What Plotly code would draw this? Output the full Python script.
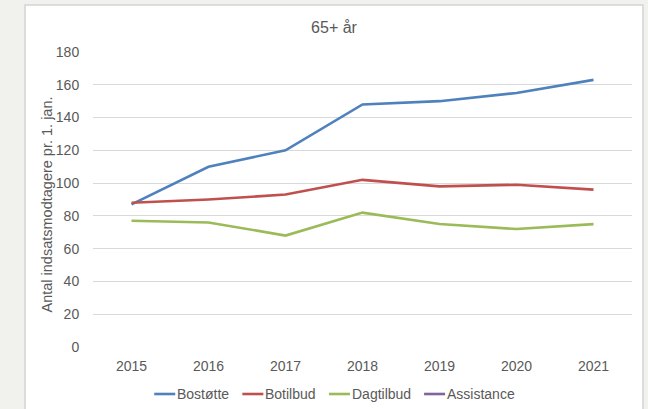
import plotly.graph_objects as go

years = ["2015", "2016", "2017", "2018", "2019", "2020", "2021"]
bostotte = [87, 110, 120, 148, 150, 155, 163]
botilbud = [88, 90, 93, 102, 98, 99, 96]
dagtilbud = [77, 76, 68, 82, 75, 72, 75]
assistance = [None, None, None, None, None, None, None]

series_names = ["Bostøtte", "Botilbud", "Dagtilbud", "Assistance"]
series_values = [bostotte, botilbud, dagtilbud, assistance]
colors = ["#4F81BD", "#C0504D", "#9BBB59", "#8064A2"]

y_ticks = [0, 20, 40, 60, 80, 100, 120, 140, 160, 180]
y_title = "Antal indsatsmodtagere pr. 1. jan."
chart_title = "65+ år"

FONT = "Liberation Sans, Arial, sans-serif"
TXT = "#595959"
FS = 14

fig = go.Figure()
for name, vals, col in zip(series_names, series_values, colors):
    fig.add_trace(go.Scatter(
        x=years, y=vals, name=name, mode="lines",
        line=dict(color=col, width=2.6),
        showlegend=False,
    ))

W, H = 648, 409
L, R, T, B = 93, 16, 52, 62
pw = W - L - R
ph = H - T - B

def px_x(p):
    return (p - L) / pw

def px_y(p):
    return (H - B - p) / ph

# white chart panel on grey page
fig.add_shape(type="rect", xref="paper", yref="paper",
              x0=px_x(25), x1=px_x(643), y0=px_y(420), y1=px_y(5),
              fillcolor="white", line=dict(color="#d4d4d4", width=1.5),
              layer="below")

# y-axis title
fig.add_annotation(text=y_title, xref="paper", yref="paper",
                   x=px_x(46.5), y=px_y(205), xanchor="center", yanchor="middle",
                   textangle=-90, showarrow=False, borderpad=0,
                   font=dict(family=FONT, size=14.5, color=TXT))

# legend (line sample + label), centred under the chart
text_em = {"Bostøtte": 3.724, "Botilbud": 3.613, "Dagtilbud": 4.224, "Assistance": 4.835}
sample, pad, gap = 21, 1, 14
widths = [sample + pad + text_em[n] * FS for n in series_names]
total = sum(widths) + gap * (len(widths) - 1)
x = 334 - total / 2
ly = 394
for name, col, w in zip(series_names, colors, widths):
    fig.add_shape(type="line", xref="paper", yref="paper",
                  x0=px_x(x), x1=px_x(x + sample), y0=px_y(ly), y1=px_y(ly),
                  line=dict(color=col, width=2.6))
    fig.add_annotation(text=name, xref="paper", yref="paper",
                       x=px_x(x + sample + pad), y=px_y(ly),
                       xanchor="left", yanchor="middle", showarrow=False,
                       borderpad=0, font=dict(family=FONT, size=FS, color=TXT))
    x += w + gap

fig.update_layout(
    width=W, height=H,
    margin=dict(l=L, r=R, t=T, b=B, autoexpand=False),
    paper_bgcolor="#f1f1ed",
    plot_bgcolor="rgba(0,0,0,0)",
    font=dict(family=FONT, color=TXT, size=FS),
    title=dict(text=chart_title, xref="container", x=334 / W, xanchor="center",
               yref="container", y=1 - 27 / H, yanchor="middle",
               font=dict(family=FONT, size=16, color=TXT)),
    showlegend=False,
)
fig.update_xaxes(
    type="category", range=[-0.5, 6.5], showgrid=False, zeroline=False,
    showline=False, ticks="outside", ticklen=6, tickcolor="rgba(0,0,0,0)",
    tickfont=dict(family=FONT, size=FS, color=TXT), automargin=False,
)
fig.update_yaxes(
    range=[0, 180], tickvals=y_ticks, showgrid=True, gridcolor="#d9d9d9",
    gridwidth=1, zeroline=False, showline=False,
    ticks="outside", ticklen=10, tickcolor="rgba(0,0,0,0)",
    tickfont=dict(family=FONT, size=FS, color=TXT), automargin=False,
)

fig.write_html(
    "out.html",
    config={"displayModeBar": False},
    post_script="document.body.style.margin='0px';document.body.style.overflow='hidden';",
)
